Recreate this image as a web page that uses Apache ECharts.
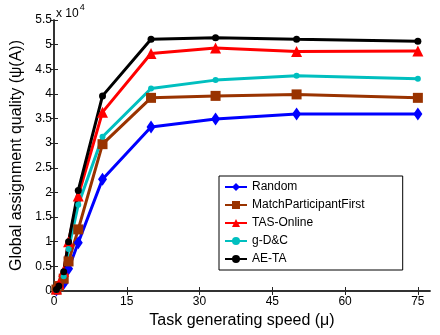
<!DOCTYPE html>
<html>
<head>
<meta charset="utf-8">
<script src="https://cdn.jsdelivr.net/npm/echarts@6/dist/echarts.min.js"></script>
<style>
  html, body { margin: 0; padding: 0; background: #fff; }
  #chart { width: 440px; height: 335px; }
</style>
</head>
<body>
<div id="chart"></div>
<script>
// task generating speed
const speeds = [0.5, 1, 2, 3, 5, 10, 20, 33.3, 50, 75];
// global assignment quality (raw values)
const random = [200, 500, 1500, 4500, 9800, 22700, 33300, 34900, 35900, 35900];
const matchFirst = [300, 1000, 2500, 6000, 12500, 29800, 39200, 39600, 39900, 39200];
const tasOnline = [400, 1500, 4000, 10000, 19300, 36300, 48200, 49300, 48600, 48700];
const gdc = [200, 800, 3000, 8500, 17500, 31300, 41100, 42800, 43700, 43100];
const aeta = [300, 1000, 3900, 10000, 20400, 39600, 51100, 51400, 51100, 50700];

const xTicks = [0, 15, 30, 45, 60, 75];

const FONT = 'Liberation Sans, Arial, sans-serif';
const AXIS_COLOR = '#262626';

function pts(ys) {
  return speeds.map((x, i) => [x, ys[i]]);
}

const chart = echarts.init(document.getElementById('chart'));

const seriesDefs = [
  {name: 'Random', data: random, color: '#0000ff', symbol: 'diamond', size: [9, 13]},
  {name: 'MatchParticipantFirst', data: matchFirst, color: '#993300', symbol: 'rect', size: 10},
  {name: 'TAS-Online', data: tasOnline, color: '#ff0000', symbol: 'triangle', size: 11},
  {name: 'g-D&C', data: gdc, color: '#00bfbf', symbol: 'circle', size: 6},
  {name: 'AE-TA', data: aeta, color: '#000000', symbol: 'circle', size: 7}
];

let options = {
  animation: false,
  textStyle: {fontFamily: FONT},
  grid: {left: 54, right: 10, top: 20, bottom: 44},
  legend: {
    orient: 'vertical',
    left: 219,
    top: 176,
    padding: [5, 38, 5, 5],
    itemGap: 6,
    itemWidth: 22,
    itemHeight: 10,
    itemTextGap: 3,
    borderColor: '#000',
    borderWidth: 1,
    backgroundColor: '#fff',
    textStyle: {fontSize: 12, color: '#000', fontFamily: FONT},
    data: seriesDefs.map(s => s.name)
  },
  xAxis: [
    {
      type: 'value',
      min: 0,
      max: 77.5,
      name: 'Task generating speed (\u03bc)',
      nameLocation: 'middle',
      nameGap: 18,
      nameTextStyle: {fontSize: 16, color: '#000', fontFamily: FONT},
      axisLine: {lineStyle: {color: AXIS_COLOR, width: 1.5}},
      axisTick: {inside: true, length: 4, customValues: xTicks, lineStyle: {color: AXIS_COLOR}},
      axisLabel: {customValues: xTicks, fontSize: 12, color: '#000', margin: 5},
      splitLine: {show: false}
    },
    {
      type: 'value',
      position: 'top',
      min: 0,
      max: 77.5,
      axisLine: {lineStyle: {color: AXIS_COLOR, width: 1.5}},
      axisTick: {inside: true, length: 4, customValues: xTicks, lineStyle: {color: AXIS_COLOR}},
      axisLabel: {show: false},
      splitLine: {show: false}
    }
  ],
  yAxis: [
    {
      type: 'value',
      min: 0,
      max: 55000,
      interval: 5000,
      name: 'Global assignment quality (\u03c8(A))',
      nameLocation: 'middle',
      nameGap: 21,
      nameTextStyle: {fontSize: 16, color: '#000', fontFamily: FONT},
      axisLine: {show: true, lineStyle: {color: AXIS_COLOR, width: 1.5}},
      axisTick: {show: true, inside: true, length: 4, lineStyle: {color: AXIS_COLOR}},
      axisLabel: {
        fontSize: 12, color: '#000', margin: 2,
        formatter: v => String(Math.round(v / 1000) / 10)
      },
      splitLine: {show: false}
    },
    {
      type: 'value',
      position: 'right',
      min: 0,
      max: 55000,
      interval: 5000,
      axisLine: {show: true, lineStyle: {color: AXIS_COLOR, width: 1.5}},
      axisTick: {show: true, inside: true, length: 4, lineStyle: {color: AXIS_COLOR}},
      axisLabel: {show: false},
      splitLine: {show: false}
    }
  ],
  graphic: [
    {
      type: 'text',
      left: 56,
      top: 3,
      style: {
        text: '{a|x 10}{b|4}',
        rich: {
          a: {fontSize: 12, fontFamily: FONT, fill: '#000', padding: [6, 0, 0, 0]},
          b: {fontSize: 9, fontFamily: FONT, fill: '#000', padding: [0, 0, 6, 1]}
        }
      }
    }
  ],
  series: seriesDefs.map(s => ({
    type: 'line',
    name: s.name,
    data: pts(s.data),
    symbol: s.symbol,
    symbolSize: s.size,
    itemStyle: {color: s.color},
    lineStyle: {color: s.color, width: 3}
  }))
};

chart.setOption(options);
</script>
</body>
</html>
